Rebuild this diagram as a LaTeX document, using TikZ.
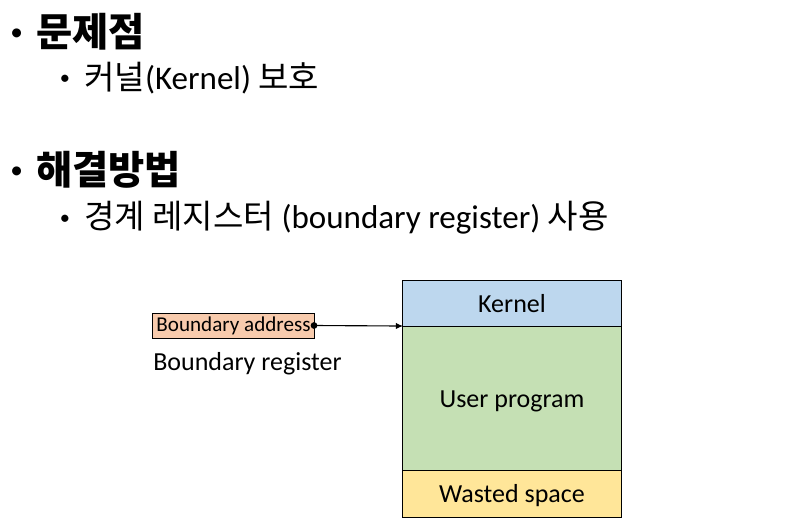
\documentclass[tikz,border=0pt]{standalone}
\usepackage{fontspec}
\setmainfont{Carlito}
\newfontfamily\kr{Noto Sans CJK KR}
\usetikzlibrary{positioning, arrows.meta}

\definecolor{kernelblue}{HTML}{BDD7EE}
\definecolor{usergreen}{HTML}{C5E0B4}
\definecolor{wasteyellow}{HTML}{FFE699}
\definecolor{addrpeach}{HTML}{F8CBAD}

\begin{document}
\begin{tikzpicture}[x=0.025cm, y=-0.025cm,
  head/.style={anchor=base west, inner sep=0pt, font=\fontsize{28}{32}\selectfont\bfseries},
  subhead/.style={anchor=base west, inner sep=0pt, font=\fontsize{23.5}{28}\selectfont},
  bigdot/.style={anchor=base west, inner sep=0pt, font=\fontsize{18}{20}\selectfont},
  smalldot/.style={anchor=base west, inner sep=0pt, font=\fontsize{14.5}{16}\selectfont},
  memblock/.style={draw, line width=0.7pt, minimum width=5.45cm, inner sep=0pt, outer sep=0pt,
    text height=16.6pt, text depth=3.7pt, font=\fontsize{18.5}{22}\selectfont}]

\useasboundingbox (0,0) rectangle (800,528);

% bullets and headings
\node[bigdot] (dot1) at (10,40) {•};
\node[head] (problem) at (36,46.5) {\kr 문제점};
\node[smalldot] (dot2) at (59.5,84.5) {•};
\node[subhead] (kernelprot) at (84,89) {{\kr 커널}(Kernel) {\kr 보호}};

\node[bigdot] (dot3) at (10,178) {•};
\node[head] (solution) at (36,184.5) {\kr 해결방법};
\node[smalldot] (dot4) at (59.5,224.5) {•};
\node[subhead] (boundreg) at (84,228) {{\kr 경계 레지스터} (boundary register) {\kr 사용}};

% memory layout
\node[memblock, fill=kernelblue, minimum height=1.15cm] (kernel) at (512,303) {Kernel};
\node[memblock, fill=usergreen, minimum height=3.6cm, below=0pt of kernel] (user) {User program};
\node[memblock, fill=wasteyellow, minimum height=1.175cm, below=0pt of user] (wasted) {Wasted space};

% boundary register
\node[draw, line width=0.7pt, fill=addrpeach, minimum width=4.025cm, minimum height=0.625cm,
  inner sep=0pt, outer sep=0pt, font=\fontsize{15}{18}\selectfont] (addr) at (233.5,325.5) {Boundary address};
\node[below=10pt of addr.south west, anchor=north west, inner sep=0pt,
  font=\fontsize{18.5}{22}\selectfont] (reglabel) {Boundary register};

% pointer
\fill (addr.east) circle (2.4pt);
\draw[line width=0.8pt, -{Latex[length=5pt, width=4.5pt]}] (addr.east) -- (kernel.south west);

\end{tikzpicture}
\end{document}
